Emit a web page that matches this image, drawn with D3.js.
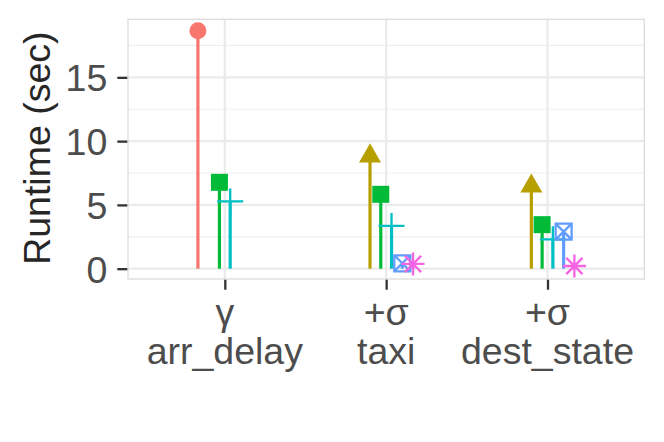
<!DOCTYPE html>
<html>
<head>
<meta charset="utf-8">
<script src="https://cdn.jsdelivr.net/npm/d3@7"></script>
<style>
  body { margin: 0; background: #fff; }
  text { font-family: "Liberation Sans", Arial, sans-serif; }
</style>
</head>
<body>
<div id="chart"></div>
<script>
// categories on the x axis (two lines each)
var categories = ['γ\narr_delay', '+σ\ntaxi', '+σ\ndest_state'];
var seriesNames = ['s1', 's2', 's3', 's4', 's5', 's6'];
var seriesColors = ['#F8766D', '#B79F00', '#00BA38', '#00BFC4', '#619CFF', '#F564E3'];
var seriesShapes = ['circle', 'triangle', 'square', 'plus', 'boxcross', 'asterisk'];

// runtime (sec) per category, one array per series
var series1 = [18.65, null, null];
var series2 = [null, 8.83, 6.47];
var series3 = [6.77, 5.83, 3.45];
var series4 = [5.27, 3.35, 2.30];
var series5 = [null, 0.42, 2.90];
var series6 = [null, 0.37, 0.21];

var yTicks = [0, 5, 10, 15];
var yMinor = [2.5, 7.5, 12.5, 17.5];

var allSeries = [series1, series2, series3, series4, series5, series6];
var data = [];
allSeries.forEach(function (vals, si) {
    vals.forEach(function (v, ci) {
        if (v != null) data.push({ cat: categories[ci], s: seriesNames[si], si: si, value: v });
    });
});

var W = 664, H = 442;
var panel = { left: 128, right: 644.3, top: 19.3, bottom: 279 };

var svg = d3.select('#chart').append('svg')
    .attr('width', W)
    .attr('height', H);

var x = d3.scalePoint()
    .domain(categories)
    .range([panel.left, panel.right])
    .padding(0.6);

var step = x.step();
var dodge = d3.scaleBand()
    .domain(seriesNames)
    .range([-0.2 * step, 0.2 * step]);

var y = d3.scaleLinear()
    .domain([-0.81, 19.55])
    .range([panel.bottom, panel.top]);

function xPos(d) { return x(d.cat) + dodge(d.s) + dodge.bandwidth() / 2; }

// grid
var grid = svg.append('g');
grid.selectAll('.minor').data(yMinor).enter().append('line')
    .attr('x1', panel.left).attr('x2', panel.right)
    .attr('y1', function (d) { return y(d); }).attr('y2', function (d) { return y(d); })
    .style('stroke', '#EFEFEF').style('stroke-width', 1.2);
grid.selectAll('.major').data(yTicks).enter().append('line')
    .attr('x1', panel.left).attr('x2', panel.right)
    .attr('y1', function (d) { return y(d); }).attr('y2', function (d) { return y(d); })
    .style('stroke', '#EBEBEB').style('stroke-width', 2.3);
grid.selectAll('.vmajor').data(categories).enter().append('line')
    .attr('x1', function (d) { return x(d); }).attr('x2', function (d) { return x(d); })
    .attr('y1', panel.top).attr('y2', panel.bottom)
    .style('stroke', '#EBEBEB').style('stroke-width', 2.3);

// segments
svg.append('g').selectAll('line').data(data).enter().append('line')
    .attr('x1', xPos).attr('x2', xPos)
    .attr('y1', y(0))
    .attr('y2', function (d) { return y(d.value); })
    .style('stroke', function (d) { return seriesColors[d.si]; })
    .style('stroke-width', 3.2);

// point shapes
function shapePath(shape) {
    var p = d3.path();
    if (shape === 'plus') {
        var a = 13;
        p.moveTo(-a, 0); p.lineTo(a, 0);
        p.moveTo(0, -a); p.lineTo(0, a);
    } else if (shape === 'asterisk') {
        var r = 11.5, q = r / Math.SQRT2;
        p.moveTo(-r, 0); p.lineTo(r, 0);
        p.moveTo(0, -r); p.lineTo(0, r);
        p.moveTo(-q, -q); p.lineTo(q, q);
        p.moveTo(-q, q); p.lineTo(q, -q);
    } else if (shape === 'boxcross') {
        var h = 8;
        p.rect(-h, -h, 2 * h, 2 * h);
        p.moveTo(-h, -h); p.lineTo(h, h);
        p.moveTo(-h, h); p.lineTo(h, -h);
    } else if (shape === 'circle') {
        return d3.symbol(d3.symbolCircle, Math.PI * 8.5 * 8.5)();
    } else if (shape === 'square') {
        return d3.symbol(d3.symbolSquare, 17 * 17)();
    } else if (shape === 'triangle') {
        return d3.symbol(d3.symbolTriangle, Math.sqrt(3) / 4 * 22 * 22)();
    }
    return p.toString();
}

svg.append('g').selectAll('path').data(data).enter().append('path')
    .attr('transform', function (d) { return 'translate(' + xPos(d) + ',' + y(d.value) + ')'; })
    .attr('d', function (d) { return shapePath(seriesShapes[d.si]); })
    .style('fill', function (d) {
        var sh = seriesShapes[d.si];
        return (sh === 'circle' || sh === 'square' || sh === 'triangle') ? seriesColors[d.si] : 'none';
    })
    .style('stroke', function (d) {
        var sh = seriesShapes[d.si];
        return (sh === 'circle' || sh === 'square' || sh === 'triangle') ? 'none' : seriesColors[d.si];
    })
    .style('stroke-width', 2.3);

// panel border
svg.append('rect')
    .attr('x', panel.left).attr('y', panel.top)
    .attr('width', panel.right - panel.left)
    .attr('height', panel.bottom - panel.top)
    .style('fill', 'none')
    .style('stroke', '#DEDEDE')
    .style('stroke-width', 1.4);

// y axis
var yAxis = svg.append('g')
    .attr('transform', 'translate(' + (panel.left - 0.7) + ',0)')
    .call(d3.axisLeft(y).tickValues(yTicks).tickSize(10).tickPadding(10));
yAxis.select('.domain').remove();
yAxis.selectAll('.tick line').style('stroke', '#333333').style('stroke-width', 2.3);
yAxis.selectAll('.tick text')
    .style('font-size', '37.5px')
    .style('fill', '#4D4D4D')
    .attr('dy', '0.36em');

// x axis
var xAxis = svg.append('g')
    .attr('transform', 'translate(0,' + (panel.bottom + 0.7) + ')')
    .call(d3.axisBottom(x).tickSize(10).tickFormat(''));
xAxis.select('.domain').remove();
xAxis.selectAll('.tick line').style('stroke', '#333333').style('stroke-width', 2.3);

var xLabels = svg.append('g').selectAll('text').data(categories).enter().append('text')
    .attr('x', function (d) { return x(d); })
    .attr('y', 325)
    .attr('text-anchor', 'middle')
    .style('font-size', '37.5px')
    .style('fill', '#4D4D4D');
xLabels.each(function (d) {
    var lines = d.split('\n');
    var t = d3.select(this);
    lines.forEach(function (l, i) {
        t.append('tspan')
            .attr('x', x(d))
            .attr('dy', i === 0 ? 0 : 39.3)
            .text(l);
    });
});

// y title
svg.append('text')
    .attr('transform', 'translate(50,' + ((panel.top + panel.bottom) / 2 - 1) + ') rotate(-90)')
    .attr('text-anchor', 'middle')
    .style('font-size', '37.5px')
    .style('fill', '#262626')
    .text('Runtime (sec)');
</script>
</body>
</html>
